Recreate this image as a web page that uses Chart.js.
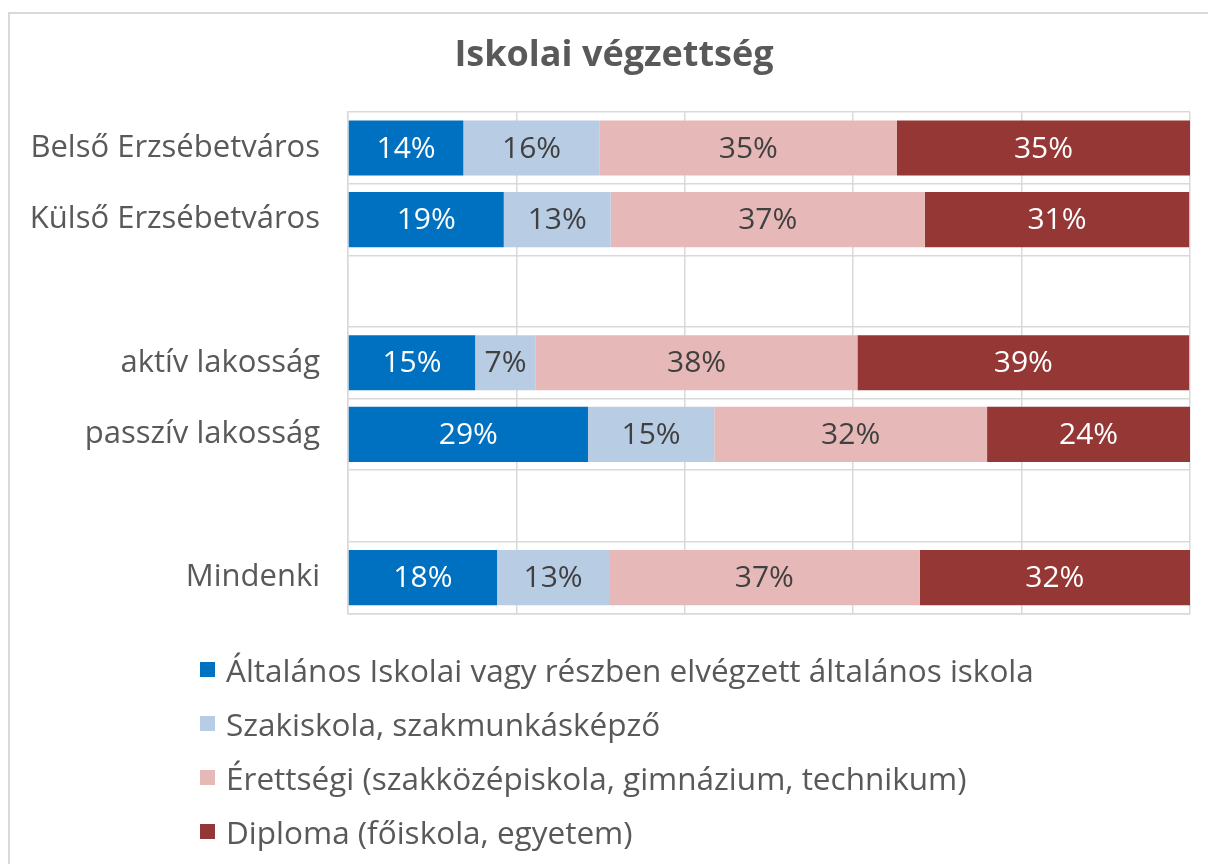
<!DOCTYPE html>
<html lang="hu">
<head>
    <meta charset="UTF-8">
    <title>Iskolai végzettség</title>
    <script src="https://cdn.jsdelivr.net/npm/chart.js@4.4.1/dist/chart.umd.min.js"></script>
    <style>
        body {
            margin: 0;
            background: #fff;
            overflow: hidden;
            font-family: "Open Sans", sans-serif;
        }

        #frame {
            position: absolute;
            left: 8px;
            top: 12px;
            width: 1212px;
            height: 900px;
            border: 2px solid #d9d9d9;
            box-sizing: border-box;
        }

        #chart {
            display: block;
        }

        #legend {
            position: absolute;
            left: 190px;
            top: 628px;
            color: #595959;
            font-size: 31.5px;
        }

        .item {
            display: flex;
            align-items: center;
            height: 54px;
            white-space: nowrap;
        }

        .box {
            width: 15px;
            height: 15px;
            margin-right: 11px;
        }
    </style>
</head>
<body>
    <div id="frame">
        <canvas id="chart" width="1208" height="646"></canvas>
        <div id="legend"></div>
    </div>

    <script>
        // categories (empty strings are the spacer rows)
        var categories = ['Belső Erzsébetváros', 'Külső Erzsébetváros', '', 'aktív lakosság', 'passzív lakosság', '', 'Mindenki'];

        var seriesNames = [
            'Általános Iskolai vagy részben elvégzett általános iskola',
            'Szakiskola, szakmunkásképző',
            'Érettségi (szakközépiskola, gimnázium, technikum)',
            'Diploma (főiskola, egyetem)'
        ];

        var altalanos = [13.7, 18.5, null, 15.1, 28.5, null, 17.7];
        var szakiskola = [16.2, 12.7, null, 7.2, 15.0, null, 13.3];
        var erettsegi = [35.3, 37.3, null, 38.2, 32.4, null, 36.9];
        var diploma = [34.8, 31.4, null, 39.4, 24.1, null, 32.1];

        var xTicks = [0, 20, 40, 60, 80, 100];

        var colors = ['#0070C0', '#B8CCE4', '#E6B9B8', '#953735'];
        var labelColors = ['#ffffff', '#404040', '#404040', '#ffffff'];
        var fontName = '"Open Sans", sans-serif';

        // percent labels in the middle of each segment
        var barLabels = {
            id: 'barLabels',
            afterDatasetsDraw: function (chart) {
                var ctx = chart.ctx;
                chart.data.datasets.forEach(function (ds, i) {
                    chart.getDatasetMeta(i).data.forEach(function (bar, j) {
                        var v = ds.data[j];
                        if (v == null) return;
                        var p = bar.getProps(['x', 'y', 'base'], true);
                        ctx.save();
                        ctx.fillStyle = labelColors[i];
                        ctx.font = '30px ' + fontName;
                        ctx.textAlign = 'center';
                        ctx.textBaseline = 'middle';
                        ctx.fillText(Math.round(v) + '%', (p.x + p.base) / 2, p.y + 1);
                        ctx.restore();
                    });
                });
            }
        };

        var allSeries = [altalanos, szakiskola, erettsegi, diploma];

        new Chart(document.getElementById('chart'), {
            type: 'bar',
            data: {
                labels: categories,
                datasets: allSeries.map(function (vals, i) {
                    return {
                        label: seriesNames[i],
                        data: vals,
                        backgroundColor: colors[i],
                        borderWidth: 0,
                        barPercentage: 0.77,
                        categoryPercentage: 1.0
                    };
                })
            },
            options: {
                indexAxis: 'y',
                responsive: false,
                animation: false,
                layout: {
                    padding: { left: 0, right: 0, top: 0, bottom: 10 }
                },
                plugins: {
                    legend: { display: false },
                    tooltip: { enabled: false },
                    title: {
                        display: true,
                        text: 'Iskolai végzettség',
                        color: '#595959',
                        font: { family: fontName, size: 36, weight: 'bold' },
                        padding: { top: 20, bottom: 35 }
                    }
                },
                scales: {
                    x: {
                        stacked: true,
                        min: 0,
                        max: 100,
                        afterBuildTicks: function (scale) {
                            scale.ticks = xTicks.map(function (v) { return { value: v }; });
                        },
                        ticks: { display: false },
                        grid: { color: '#d9d9d9', lineWidth: 1.5, drawTicks: false },
                        border: { color: '#d9d9d9', width: 1.5 }
                    },
                    y: {
                        stacked: true,
                        afterFit: function (scale) { scale.width = 338; },
                        ticks: {
                            color: '#595959',
                            padding: 28,
                            font: { family: fontName, size: 31 }
                        },
                        grid: { color: '#d9d9d9', lineWidth: 1.5, drawTicks: false, offset: true },
                        border: { color: '#d9d9d9', width: 1.5 }
                    },
                    // empty right-hand gutter, so the title stays centred on the whole frame
                    gutter: {
                        axis: 'y',
                        type: 'category',
                        position: 'right',
                        afterFit: function (scale) { scale.width = 28; },
                        ticks: { display: false },
                        grid: { display: false, drawTicks: false },
                        border: { display: false }
                    }
                }
            },
            plugins: [barLabels]
        });

        // legend, one entry per line
        var legend = document.getElementById('legend');
        seriesNames.forEach(function (name, i) {
            var item = document.createElement('div');
            item.className = 'item';
            var box = document.createElement('span');
            box.className = 'box';
            box.style.background = colors[i];
            var txt = document.createElement('span');
            txt.textContent = name;
            item.appendChild(box);
            item.appendChild(txt);
            legend.appendChild(item);
        });
    </script>
</body>
</html>
